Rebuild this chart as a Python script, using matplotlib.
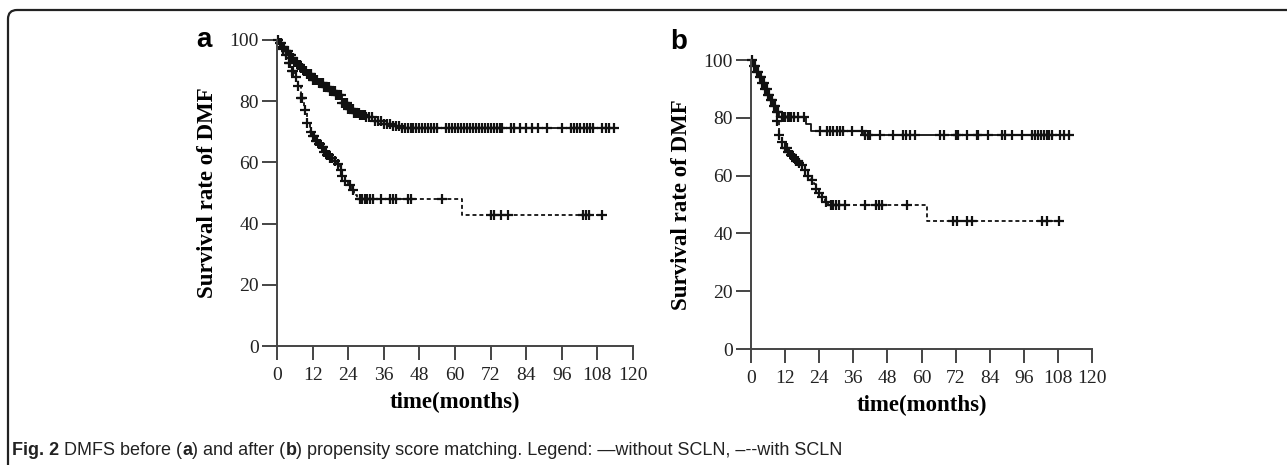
import matplotlib
matplotlib.use("Agg")
from matplotlib import pyplot as plt
from matplotlib.patches import FancyBboxPatch
import numpy as np

# ---- data ----
xticks = [0, 12, 24, 36, 48, 60, 72, 84, 96, 108, 120]
yticks = [0, 20, 40, 60, 80, 100]

# panel a, without SCLN (solid)
a_wo_t = [0, 1, 2, 3, 4, 5, 6, 7, 8, 9, 10, 12, 14, 16, 18, 20, 22, 24, 26, 28, 30, 33, 36, 39, 42]
a_wo_s = [100, 99, 97.8, 96.5, 95.2, 94, 92.8, 91.8, 91, 90, 89, 87, 86, 84.5, 83.3, 82, 79.5,
          77.5, 76.3, 75.5, 74.8, 73.5, 72.5, 71.8, 71.2]
a_wo_end = 114
a_wo_cens = [0.5, 1, 1.5, 2, 2.5, 3, 3.2, 3.6, 4, 4.4, 4.8, 5.2, 5.5, 6, 6.3, 6.7, 7, 7.5, 7.8,
             8.2, 8.5, 9, 9.3, 9.7, 10, 10.5, 11, 11.5, 12, 12.5, 13, 13.5, 14, 14.5, 15, 15.5,
             16, 16.5, 17, 17.5, 18, 18.5, 19, 19.5, 20, 20.5, 21, 21.5, 22, 22.5, 23, 23.5,
             24, 24.5, 25, 25.5, 26, 26.5, 27, 27.5, 28, 28.5, 29, 29.5, 30, 31, 32, 33, 34, 35,
             36, 37, 38, 39, 40, 41, 42, 43, 44, 45, 46, 47, 48, 49, 50, 51, 52, 53, 54, 57, 58,
             59, 60, 61, 62, 63, 64, 65, 66, 67, 68, 69, 70, 71, 72, 73, 74, 75, 76, 79, 80, 82,
             84, 86, 88, 91, 96, 99, 100, 101, 102, 103.5, 104.5, 105.5, 106.5, 109.5, 111, 112,
             113.5]

# panel a, with SCLN (dashed)
a_w_t = [0, 1, 2, 3, 4, 5, 6, 7, 8, 9, 10, 11, 12, 13, 14, 15, 16, 17, 18, 19, 20, 21, 22, 23,
         24, 25, 26, 27, 62.5]
a_w_s = [100, 98.5, 97, 95, 92.5, 90, 88, 85, 81, 77, 73, 70, 68.5, 67, 66, 65, 63.5,
         62.5, 61.5, 60.5, 59.5, 57.5, 55.5, 54, 52.5, 51, 49.5, 48, 42.8]
a_w_end = 110
a_w_cens = [2, 3, 4, 4.5, 5, 5.5, 6.5, 7, 8, 8.5, 9.5, 10, 11.5, 12, 12.5, 13, 13.5, 14, 14.5,
            15, 15.5, 16, 16.5, 17, 17.5, 18, 18.5, 19.5, 20.5, 21.5, 22, 23, 24.5, 25.5, 28,
            28.8, 29.5, 30.5, 31.5, 32.5, 35, 38, 39, 40, 44, 45, 55.5, 72, 73, 75.5, 78, 103,
            104, 105, 109.5]

# panel b, without SCLN (solid)
b_wo_t = [0, 1, 2, 3, 4, 5, 6, 7, 8, 9, 10, 19.5, 21, 39.5]
b_wo_s = [100, 98, 96, 94, 92, 90, 88, 86, 84, 82, 80.3, 78, 75.6, 73.9]
b_wo_end = 113
b_wo_cens = [0.5, 1, 1.5, 2, 2.5, 3, 3.5, 4, 4.5, 5, 5.5, 6, 6.5, 7, 7.5, 8, 8.5, 9, 9.5, 11,
             11.5, 12, 13, 13.5, 14, 15, 16.5, 18.5, 24.3, 26.7, 27.8, 28.8, 30.3, 31.4, 32.4,
             35.5, 39, 40, 41, 42, 45.4, 50, 53.5, 54.7, 56, 57.7, 66.5, 68, 72, 73, 76, 79.5,
             80, 83.4, 88.3, 89.4, 92, 95.4, 99, 100, 101, 102, 103, 104, 105, 106, 108.7, 110,
             112]

# panel b, with SCLN (dashed)
b_w_t = [0, 1, 2, 3, 4, 5, 6, 7, 8, 9, 10, 11, 12, 13, 14, 15, 16, 17, 18, 19, 20, 21, 22, 23,
         24, 25, 26, 27, 62]
b_w_s = [100, 98, 96, 94, 92, 90, 88, 85, 82, 79, 74, 71.5, 69.5, 68, 67, 66, 65, 64.5, 63.5,
         62, 60, 58.5, 57, 55.5, 54, 52.5, 51, 49.8, 44.3]
b_w_end = 109
b_w_cens = [9, 10, 11, 12, 12.5, 13, 13.5, 14, 14.5, 15, 16, 16.5, 17, 18, 19, 20, 21.5, 23, 24,
            25, 26.5, 28, 29, 30, 31, 33, 40, 44, 45, 46, 55, 71, 72.5, 76, 77.7, 102.4, 104,
            108.4]

W, H = 1287, 465
ink = "#111111"
axcol = "#444444"
serif = ["Liberation Serif", "DejaVu Serif"]
sans = ["Liberation Sans", "DejaVu Sans"]

fig = plt.figure(figsize=(W / 100, H / 100), dpi=100)
fig.patch.set_facecolor("white")


def px_axes(left, right, bottom, top):
    # pixel box -> figure fraction
    return fig.add_axes([left / W, 1 - bottom / H, (right - left) / W, (bottom - top) / H])


def km(ax, t, s, end, cens, ls):
    tt = list(t) + [end]
    ss = list(s) + [s[-1]]
    ax.step(tt, ss, where="post", color=ink, lw=1.3, ls=ls, clip_on=False,
            dashes=(2.2, 1.6) if ls == "--" else (None, None))
    idx = np.searchsorted(t, cens, side="right") - 1
    cy = np.array(s)[idx]
    ax.plot(cens, cy, ls="none", marker="+", ms=7, mew=1.6, color=ink, clip_on=False)


def style(ax):
    ax.set_xlim(0, 120)
    ax.set_ylim(0, 100)
    ax.set_xticks(xticks)
    ax.set_yticks(yticks)
    for side in ["top", "right"]:
        ax.spines[side].set_visible(False)
    for side in ["left", "bottom"]:
        ax.spines[side].set_color(axcol)
        ax.spines[side].set_linewidth(1.4)
    ax.tick_params(direction="out", width=1.4, color=axcol, labelsize=14,
                   labelcolor="#222222")
    ax.tick_params(axis="y", pad=2, length=11)
    ax.tick_params(axis="x", pad=5, length=10)
    for lab in ax.get_xticklabels() + ax.get_yticklabels():
        lab.set_family(serif)
    ax.set_xlabel("time(months)", fontsize=16.5, fontweight="bold", family=serif, labelpad=6)
    ax.set_ylabel("Survival rate of DMF", fontsize=16.5, fontweight="bold", family=serif,
                  labelpad=8)


ax_a = px_axes(277, 633, 346, 40)
km(ax_a, a_wo_t, a_wo_s, a_wo_end, a_wo_cens, "-")
km(ax_a, a_w_t, a_w_s, a_w_end, a_w_cens, "--")
style(ax_a)

ax_b = px_axes(751, 1092, 349, 60)
km(ax_b, b_wo_t, b_wo_s, b_wo_end, b_wo_cens, "-")
km(ax_b, b_w_t, b_w_s, b_w_end, b_w_cens, "--")
style(ax_b)

fig.text(204 / W, 1 - 40 / H, "a", fontsize=20, fontweight="bold", family=sans,
         ha="center", va="center", color="black")
fig.text(679 / W, 1 - 42 / H, "b", fontsize=20, fontweight="bold", family=sans,
         ha="center", va="center", color="black")

# rounded border (open at right / bottom)
box = FancyBboxPatch((8, -40), W + 40, (H - 10) + 40, transform=None,
                     boxstyle="round,pad=0,rounding_size=9", fc="none", ec="#222222",
                     lw=1.6)
fig.patches.append(box)

# caption with bold pieces
pieces = [("Fig. 2", "bold"), (" DMFS before (", "normal"), ("a", "bold"),
          (") and after (", "normal"), ("b", "bold"),
          (") propensity score matching. Legend: \u2014without SCLN, \u2013--with SCLN", "normal")]
fig.canvas.draw()
renderer = fig.canvas.get_renderer()
x = 12
for txt, wt in pieces:
    t = fig.text(x / W, 1 - 450 / H, txt, fontsize=13, fontweight=wt, family=sans,
                 ha="left", va="center", color="#222222")
    x += t.get_window_extent(renderer).width

fig.savefig("out.png", dpi=100)
